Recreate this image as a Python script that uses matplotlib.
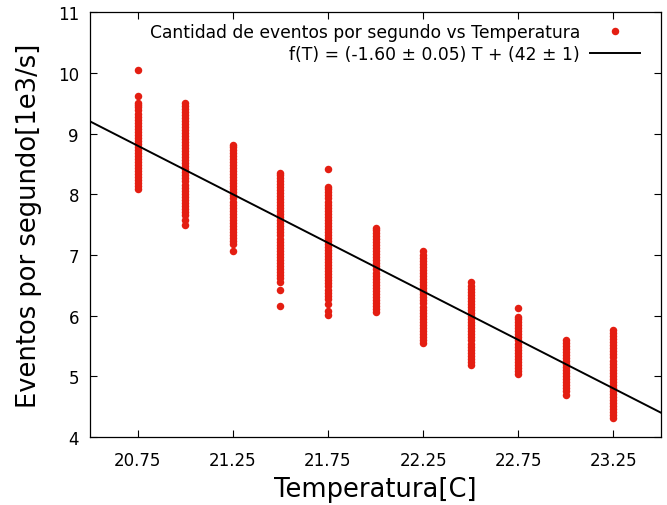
import numpy as np
import matplotlib
matplotlib.use("Agg")
import matplotlib.pyplot as plt

# Temperaturas medidas [C]
temps = [20.75, 21.00, 21.25, 21.50, 21.75, 22.00, 22.25, 22.50, 22.75, 23.00, 23.25]

# Eventos por segundo [1e3/s] registrados a cada temperatura
ev_2075 = [8.08, 8.13, 8.18, 8.23, 8.28, 8.33, 8.38, 8.43, 8.48, 8.53, 8.58, 8.63,
           8.68, 8.73, 8.78, 8.83, 8.88, 8.93, 8.98, 9.03, 9.08, 9.13, 9.18, 9.23,
           9.28, 9.33, 9.38, 9.43, 9.47, 9.50, 9.62, 10.05]
ev_2100 = [7.50, 7.57, 7.66, 7.71, 7.76, 7.81, 7.86, 7.91, 7.96, 8.01, 8.06, 8.11,
           8.16, 8.21, 8.26, 8.31, 8.36, 8.41, 8.46, 8.51, 8.56, 8.61, 8.66, 8.71,
           8.76, 8.81, 8.86, 8.91, 8.96, 9.01, 9.06, 9.11, 9.16, 9.21, 9.26, 9.31,
           9.36, 9.41, 9.46, 9.51]
ev_2125 = [7.06, 7.18, 7.23, 7.28, 7.33, 7.38, 7.43, 7.48, 7.53, 7.58, 7.63, 7.68,
           7.73, 7.78, 7.83, 7.88, 7.93, 7.98, 8.03, 8.08, 8.13, 8.18, 8.23, 8.28,
           8.33, 8.38, 8.43, 8.48, 8.53, 8.58, 8.63, 8.68, 8.73, 8.78, 8.81]
ev_2150 = [6.16, 6.43, 6.55, 6.62, 6.67, 6.72, 6.77, 6.82, 6.87, 6.92, 6.97, 7.02,
           7.07, 7.12, 7.17, 7.22, 7.27, 7.32, 7.37, 7.42, 7.47, 7.52, 7.57, 7.62,
           7.67, 7.72, 7.77, 7.82, 7.87, 7.92, 7.97, 8.02, 8.07, 8.12, 8.17, 8.22,
           8.27, 8.32, 8.35]
ev_2175 = [6.01, 6.08, 6.19, 6.28, 6.33, 6.38, 6.43, 6.48, 6.53, 6.58, 6.63, 6.68,
           6.73, 6.78, 6.83, 6.88, 6.93, 6.98, 7.03, 7.08, 7.13, 7.18, 7.23, 7.28,
           7.33, 7.38, 7.43, 7.48, 7.53, 7.58, 7.63, 7.68, 7.73, 7.78, 7.83, 7.88,
           7.93, 7.98, 8.03, 8.08, 8.12, 8.41]
ev_2200 = [6.06, 6.11, 6.16, 6.21, 6.26, 6.31, 6.36, 6.41, 6.46, 6.51, 6.56, 6.61,
           6.66, 6.71, 6.76, 6.81, 6.86, 6.91, 6.96, 7.01, 7.06, 7.11, 7.16, 7.21,
           7.26, 7.31, 7.36, 7.41, 7.44]
ev_2225 = [5.55, 5.60, 5.65, 5.70, 5.75, 5.80, 5.85, 5.90, 5.95, 6.00, 6.05, 6.10,
           6.15, 6.20, 6.25, 6.30, 6.35, 6.40, 6.45, 6.50, 6.55, 6.60, 6.65, 6.70,
           6.75, 6.80, 6.85, 6.90, 6.95, 7.00, 7.06]
ev_2250 = [5.19, 5.24, 5.29, 5.34, 5.39, 5.44, 5.49, 5.54, 5.59, 5.64, 5.69, 5.74,
           5.79, 5.84, 5.89, 5.94, 5.99, 6.04, 6.09, 6.14, 6.19, 6.24, 6.29, 6.34,
           6.39, 6.44, 6.49, 6.55]
ev_2275 = [5.04, 5.09, 5.14, 5.19, 5.24, 5.29, 5.34, 5.39, 5.44, 5.49, 5.54, 5.59,
           5.64, 5.69, 5.74, 5.79, 5.84, 5.89, 5.94, 5.97, 6.12]
ev_2300 = [4.70, 4.75, 4.80, 4.85, 4.90, 4.95, 5.00, 5.05, 5.10, 5.15, 5.20, 5.25,
           5.30, 5.35, 5.40, 5.45, 5.50, 5.55, 5.60]
ev_2325 = [4.31, 4.36, 4.41, 4.46, 4.51, 4.56, 4.61, 4.66, 4.71, 4.76, 4.81, 4.86,
           4.91, 4.96, 5.01, 5.06, 5.11, 5.16, 5.21, 5.26, 5.31, 5.36, 5.41, 5.46,
           5.51, 5.56, 5.61, 5.66, 5.71, 5.76]

eventos = [ev_2075, ev_2100, ev_2125, ev_2150, ev_2175, ev_2200,
           ev_2225, ev_2250, ev_2275, ev_2300, ev_2325]

# Ajuste lineal f(T) = a T + b
pendiente = -1.60
ordenada = 42.0

x_ticks = [20.75, 21.25, 21.75, 22.25, 22.75, 23.25]
y_ticks = [4, 5, 6, 7, 8, 9, 10, 11]

plt.rcParams["font.family"] = "DejaVu Sans"

fig = plt.figure(figsize=(6.67, 5.06), dpi=100)
ax = fig.add_axes([0.135, 0.1344, 0.856, 0.8396])

xs = np.concatenate([[t] * len(ev) for t, ev in zip(temps, eventos)])
ys = np.concatenate(eventos)
ax.plot(xs, ys, "o", color="#e41e12", ms=5.4, mec="none",
        label="Cantidad de eventos por segundo vs Temperatura")

t_fit = np.array([20.5, 23.5])
ax.plot(t_fit, pendiente * t_fit + ordenada, color="black", lw=1.4,
        label="f(T) = (-1.60 ± 0.05) T + (42 ± 1)")

ax.set_xlim(20.5, 23.5)
ax.set_ylim(4, 11)
ax.set_xticks(x_ticks)
ax.set_xticklabels([f"{t:.2f}" for t in x_ticks])
ax.set_yticks(y_ticks)
ax.tick_params(direction="in", length=5, width=0.8, top=True, right=True,
               labelsize=12, colors="black")
ax.tick_params(axis="x", pad=10)
ax.tick_params(axis="y", pad=8)
for s in ax.spines.values():
    s.set_linewidth(0.9)

ax.set_xlabel("Temperatura[C]", fontsize=18.5, labelpad=5)
ax.set_ylabel("Eventos por segundo[1e3/s]", fontsize=18.5, labelpad=11)

ax.legend(loc="upper right", bbox_to_anchor=(0.963, 0.974), frameon=False,
          markerfirst=False, fontsize=12.3, handlelength=2.9, handletextpad=0.6,
          borderpad=0, borderaxespad=0, labelspacing=0.2, numpoints=1)

fig.savefig("out.png", dpi=100)
plt.close(fig)
